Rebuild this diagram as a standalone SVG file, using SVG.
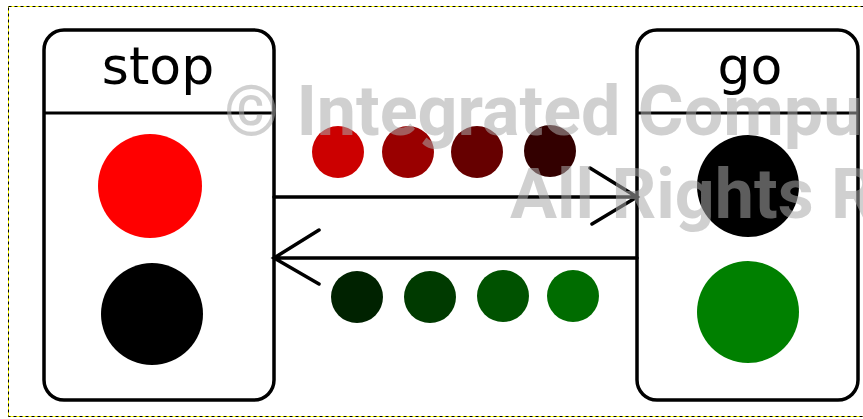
<svg xmlns="http://www.w3.org/2000/svg" width="863" height="419" viewBox="0 0 863 419">
<style>
.box{fill:#fff;stroke:#000;stroke-width:3.5}
.div{stroke:#000;stroke-width:3}
.title{font-family:"DejaVu Sans",sans-serif;font-size:52px;fill:#000;text-anchor:middle}
.conn{stroke:#000;stroke-width:3.5;fill:none;stroke-linecap:round}
.wm{font-family:Roboto,"Liberation Sans",sans-serif;font-weight:bold;font-size:70px;fill:#aaa;fill-opacity:0.55}
</style>
<rect x="0" y="0" width="863" height="419" fill="#fff"/>
<rect x="8.5" y="6.5" width="870" height="410" fill="none" stroke="#ffff00" stroke-width="1"/>
<rect x="8.5" y="6.5" width="870" height="410" fill="none" stroke="#000" stroke-width="1" stroke-dasharray="3,3"/>
<g id="stop">
<rect class="box" x="44" y="30" width="230" height="370" rx="20"/>
<line class="div" x1="44" y1="113" x2="274" y2="113"/>
<text class="title" x="158" y="84">stop</text>
<circle cx="150" cy="186" r="52" fill="#ff0000"/>
<circle cx="152" cy="314" r="51" fill="#000"/>
</g>
<g id="go">
<rect class="box" x="637" y="30" width="221" height="370" rx="20"/>
<line class="div" x1="637" y1="113" x2="858" y2="113"/>
<text class="title" x="750" y="84">go</text>
<circle cx="748" cy="186" r="51" fill="#000"/>
<circle cx="748" cy="312" r="51" fill="#008000"/>
</g>
<g id="connectors">
<path class="conn" d="M274 197 H637 M590 168 L637 197 L592 224"/>
<path class="conn" d="M637 258 H274 M319 230 L274 258 L319 284"/>
<circle cx="338" cy="152" r="26" fill="#cc0000"/>
<circle cx="408" cy="152" r="26" fill="#990000"/>
<circle cx="477" cy="152" r="26" fill="#660000"/>
<circle cx="550" cy="151" r="26" fill="#330000"/>
<circle cx="357" cy="297" r="26" fill="#002200"/>
<circle cx="430" cy="297" r="26" fill="#003a00"/>
<circle cx="503" cy="296" r="26" fill="#005200"/>
<circle cx="573" cy="296" r="26" fill="#006c00"/>
</g>
<g id="watermark">
<text class="wm" x="224" y="135">© Integrated Compu</text>
<text class="wm" x="510" y="218">All Rights R</text>
</g>
</svg>
